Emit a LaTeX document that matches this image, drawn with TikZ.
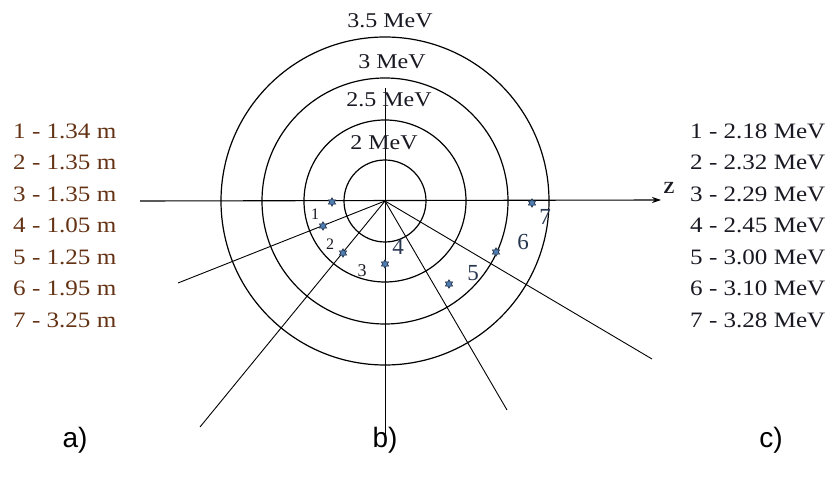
\documentclass[tikz,border=0pt]{standalone}
\usepackage{fontspec}
\setmainfont{Liberation Serif}
\newfontfamily\wideserif{Liberation Serif}[FakeStretch=1.14]
\newfontfamily\capsans{Liberation Sans}
\usetikzlibrary{arrows.meta,shapes.geometric}
\definecolor{brownlist}{RGB}{100,50,20}
\definecolor{darklist}{RGB}{25,25,35}
\definecolor{slatelbl}{RGB}{40,55,80}
\definecolor{markfill}{RGB}{80,125,175}
\definecolor{markedge}{RGB}{30,45,70}
\begin{document}
\begin{tikzpicture}[x=1pt,y=-1pt,
  ring/.style={draw=black,line width=1.2pt},
  ray/.style={draw=black,line width=0.9pt},
  axisline/.style={draw=black,line width=1.1pt,-{Stealth[length=9pt,width=6pt,fill=markedge]}},
  leftrow/.style={anchor=west,inner sep=0pt,text=brownlist,font=\wideserif\fontsize{22}{24}\selectfont},
  rightrow/.style={anchor=west,inner sep=0pt,text=darklist,font=\wideserif\fontsize{22}{24}\selectfont},
  ringlbl/.style={inner sep=0pt,text=darklist,font=\wideserif\fontsize{21}{24}\selectfont},
  ptlbl/.style={inner sep=0pt,text=slatelbl,font=\fontsize{23}{24}\selectfont},
  smlbl/.style={inner sep=0pt,text=darklist,font=\fontsize{16}{18}\selectfont},
  marker/.style={star,star points=6,star point ratio=1.8,minimum size=8.5pt,inner sep=0pt,fill=markfill,draw=markedge,line width=0.6pt},
  panel/.style={inner sep=0pt,text=black,font=\capsans\fontsize{28}{30}\selectfont}]
\useasboundingbox (0,0) rectangle (833,478);
\fill[white] (0,0) rectangle (833,478);
\coordinate (O) at (385,201);
% rings
\draw[ring] (O) circle[radius=41pt];
\draw[ring] (O) circle[radius=81pt];
\draw[ring] (O) circle[radius=123pt];
\draw[ring] (O) circle[radius=164pt];
% rays
\coordinate (Vtop) at (385,88);
\coordinate (Vbot) at (385,438);
\coordinate (R1) at (178,283);
\coordinate (R2) at (200,427);
\coordinate (R4) at (507,410);
\coordinate (R5) at (652,359);
\draw[ray] (Vtop) -- (Vbot);
\draw[ray] (O) -- (R1);
\draw[ray] (O) -- (R2);
\draw[ray] (O) -- (R4);
\draw[ray] (O) -- (R5);
% axis
\coordinate (Astart) at (140,201);
\coordinate (Aend) at (661,200);
\draw[axisline] (Astart) -- (Aend);
\node[inner sep=0pt,text=darklist,font=\bfseries\fontsize{17}{18}\selectfont] (Z) at (669,188) {Z};
% ring labels
\node[ringlbl] (E35) at (390,21) {3.5 MeV};
\node[ringlbl] (E3) at (392,62) {3 MeV};
\node[ringlbl] (E25) at (389,100) {2.5 MeV};
\node[ringlbl] (E2) at (384,143) {2 MeV};
% markers
\node[marker] (m0) at (332,202) {};
\node[marker] (m1) at (323,226) {};
\node[marker] (m2) at (343,253) {};
\node[marker] (m3) at (385,264) {};
\node[marker] (m5) at (449,284) {};
\node[marker] (m6) at (496,252) {};
\node[marker] (m7) at (532,203) {};
% point labels
\node[smlbl] (p1) at (315,214) {1};
\node[smlbl] (p2) at (330,244) {2};
\node[smlbl,font=\fontsize{18}{20}\selectfont] (p3) at (362,271) {3};
\node[ptlbl] (p4) at (398,247) {4};
\node[ptlbl] (p5) at (473,273) {5};
\node[ptlbl] (p6) at (523,242) {6};
\node[ptlbl] (p7) at (545,217) {7};
% left list
\node[leftrow] (a1) at (13,131) {1 - 1.34 m};
\node[leftrow] (a2) at (13,162.5) {2 - 1.35 m};
\node[leftrow] (a3) at (13,194) {3 - 1.35 m};
\node[leftrow] (a4) at (13,225.5) {4 - 1.05 m};
\node[leftrow] (a5) at (13,257) {5 - 1.25 m};
\node[leftrow] (a6) at (13,288.5) {6 - 1.95 m};
\node[leftrow] (a7) at (13,320) {7 - 3.25 m};
% right list
\node[rightrow] (c1) at (690,131) {1 - 2.18 MeV};
\node[rightrow] (c2) at (690,162.5) {2 - 2.32 MeV};
\node[rightrow] (c3) at (690,194) {3 - 2.29 MeV};
\node[rightrow] (c4) at (690,225.5) {4 - 2.45 MeV};
\node[rightrow] (c5) at (690,257) {5 - 3.00 MeV};
\node[rightrow] (c6) at (690,288.5) {6 - 3.10 MeV};
\node[rightrow] (c7) at (690,320) {7 - 3.28 MeV};
% panel letters
\node[panel] (pa) at (75,440) {a)};
\node[panel] (pb) at (385,440) {b)};
\node[panel] (pc) at (771,440) {c)};
\end{tikzpicture}
\end{document}
